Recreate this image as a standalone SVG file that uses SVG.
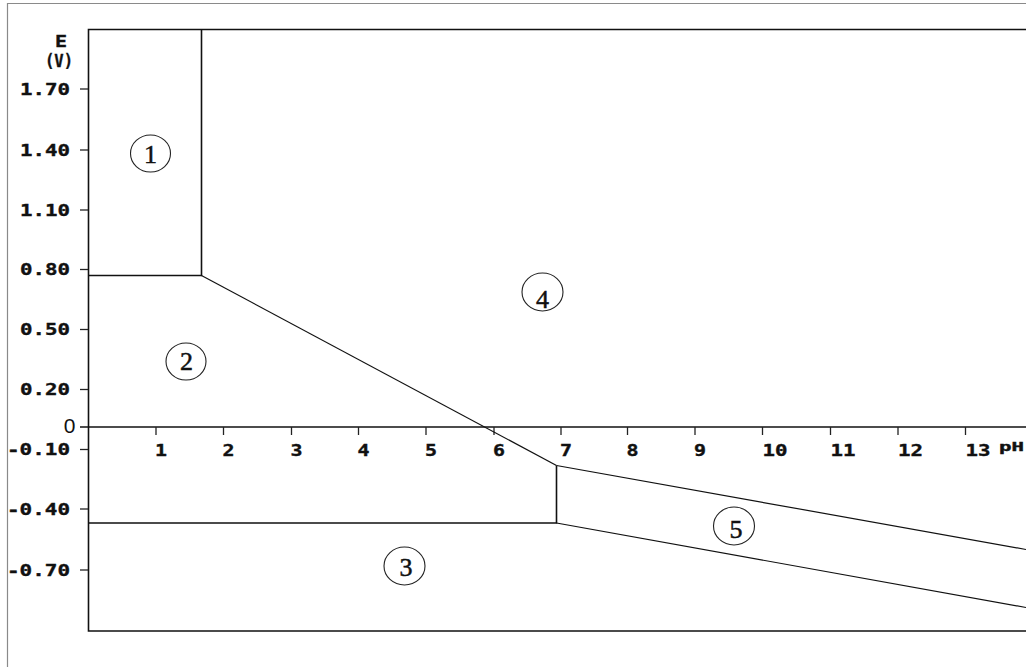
<svg xmlns="http://www.w3.org/2000/svg" width="1026" height="667" viewBox="0 0 1026 667">
<style>
.frame{fill:none;stroke:#8a8a8a;stroke-width:1.2}
.ln{fill:none;stroke:#111;stroke-width:1.6}
.thin{fill:none;stroke:#111;stroke-width:1.2}
.tick{stroke:#222;stroke-width:1.3}
.lab{font-family:"DejaVu Sans Mono","Liberation Mono",monospace;font-weight:bold;font-size:15px;fill:#111;stroke:#111;stroke-width:0.35}
.zero{font-family:"Liberation Sans","DejaVu Sans",sans-serif;font-size:21px;fill:#111}
.circ{fill:none;stroke:#222;stroke-width:1.1}
.num{font-family:"Liberation Serif","Times New Roman",serif;font-size:26px;fill:#111;stroke:#111;stroke-width:0.5;text-anchor:middle}
</style>
<rect width="1026" height="667" fill="#ffffff"/>
<g id="outer-frame">
<polyline class="frame" points="7.5,667 7.5,3.5 1026,3.5"/>
</g>
<g id="axes">
<polyline class="ln" points="1026,29.5 88.5,29.5 88.5,631 1026,631"/>
<line class="ln" x1="80" y1="427" x2="1026" y2="427"/>
<g id="y-ticks">
<line class="tick" x1="80" y1="89" x2="88" y2="89"/>
<line class="tick" x1="80" y1="150" x2="88" y2="150"/>
<line class="tick" x1="80" y1="210" x2="88" y2="210"/>
<line class="tick" x1="80" y1="269.5" x2="88" y2="269.5"/>
<line class="tick" x1="80" y1="329.5" x2="88" y2="329.5"/>
<line class="tick" x1="80" y1="389.5" x2="88" y2="389.5"/>
<line class="tick" x1="80" y1="449.5" x2="88" y2="449.5"/>
<line class="tick" x1="80" y1="509" x2="88" y2="509"/>
<line class="tick" x1="80" y1="570" x2="88" y2="570"/>
</g>
<g id="x-ticks">
<line class="tick" x1="156" y1="427" x2="156" y2="435"/>
<line class="tick" x1="223.5" y1="427" x2="223.5" y2="435"/>
<line class="tick" x1="291.5" y1="427" x2="291.5" y2="435"/>
<line class="tick" x1="358.5" y1="427" x2="358.5" y2="435"/>
<line class="tick" x1="426" y1="427" x2="426" y2="435"/>
<line class="tick" x1="494" y1="427" x2="494" y2="435"/>
<line class="tick" x1="561" y1="427" x2="561" y2="435"/>
<line class="tick" x1="627.5" y1="427" x2="627.5" y2="435"/>
<line class="tick" x1="695" y1="427" x2="695" y2="435"/>
<line class="tick" x1="762.5" y1="427" x2="762.5" y2="435"/>
<line class="tick" x1="830.5" y1="427" x2="830.5" y2="435"/>
<line class="tick" x1="898" y1="427" x2="898" y2="435"/>
<line class="tick" x1="965.5" y1="427" x2="965.5" y2="435"/>
</g>
<g id="y-labels">
<text class="lab" x="55" y="47" textLength="12" lengthAdjust="spacingAndGlyphs">E</text>
<text class="lab" x="45" y="67" style="font-size:18px" textLength="28" lengthAdjust="spacingAndGlyphs">(V)</text>
<text class="lab" x="20" y="94.5" textLength="50" lengthAdjust="spacingAndGlyphs">1.70</text>
<text class="lab" x="20" y="155.5" textLength="50" lengthAdjust="spacingAndGlyphs">1.40</text>
<text class="lab" x="20" y="215.5" textLength="50" lengthAdjust="spacingAndGlyphs">1.10</text>
<text class="lab" x="20" y="275" textLength="50" lengthAdjust="spacingAndGlyphs">0.80</text>
<text class="lab" x="20" y="335" textLength="50" lengthAdjust="spacingAndGlyphs">0.50</text>
<text class="lab" x="20" y="395" textLength="50" lengthAdjust="spacingAndGlyphs">0.20</text>
<text class="zero" x="75.5" y="433" text-anchor="end">0</text>
<text class="lab" x="7" y="455" textLength="63" lengthAdjust="spacingAndGlyphs">-0.10</text>
<text class="lab" x="7" y="514.5" textLength="63" lengthAdjust="spacingAndGlyphs">-0.40</text>
<text class="lab" x="7" y="575.5" textLength="63" lengthAdjust="spacingAndGlyphs">-0.70</text>
</g>
<g id="x-labels">
<text class="lab" x="155" y="455.5" textLength="12" lengthAdjust="spacingAndGlyphs">1</text>
<text class="lab" x="222.5" y="455.5" textLength="12" lengthAdjust="spacingAndGlyphs">2</text>
<text class="lab" x="290.5" y="455.5" textLength="12" lengthAdjust="spacingAndGlyphs">3</text>
<text class="lab" x="357.5" y="455.5" textLength="12" lengthAdjust="spacingAndGlyphs">4</text>
<text class="lab" x="425" y="455.5" textLength="12" lengthAdjust="spacingAndGlyphs">5</text>
<text class="lab" x="493" y="455.5" textLength="12" lengthAdjust="spacingAndGlyphs">6</text>
<text class="lab" x="560" y="455.5" textLength="12" lengthAdjust="spacingAndGlyphs">7</text>
<text class="lab" x="626.5" y="455.5" textLength="12" lengthAdjust="spacingAndGlyphs">8</text>
<text class="lab" x="694" y="455.5" textLength="12" lengthAdjust="spacingAndGlyphs">9</text>
<text class="lab" x="762.5" y="455.5" textLength="25" lengthAdjust="spacingAndGlyphs">10</text>
<text class="lab" x="830.5" y="455.5" textLength="25" lengthAdjust="spacingAndGlyphs">11</text>
<text class="lab" x="898" y="455.5" textLength="25" lengthAdjust="spacingAndGlyphs">12</text>
<text class="lab" x="965.5" y="455.5" textLength="25" lengthAdjust="spacingAndGlyphs">13</text>
<text class="lab" x="999" y="451" style="font-size:12px" textLength="25" lengthAdjust="spacingAndGlyphs">pH</text>
</g>
</g>
<g id="connectors">
<polyline class="ln" points="201.5,29.5 201.5,275.5 88.5,275.5"/>
<line class="thin" x1="201.5" y1="275.5" x2="556.5" y2="465.5"/>
<polyline class="ln" points="556.5,465.5 556.5,523 88.5,523"/>
<line class="thin" x1="556.5" y1="465.5" x2="1026" y2="549.5"/>
<line class="thin" x1="556.5" y1="523" x2="1026" y2="607.5"/>
</g>
<g id="region-1">
<ellipse class="circ" cx="150.5" cy="153.5" rx="20" ry="18.5"/>
<text class="num" x="150.5" y="163">1</text>
</g>
<g id="region-2">
<ellipse class="circ" cx="186" cy="361.5" rx="20" ry="18.5"/>
<text class="num" x="186.5" y="370">2</text>
</g>
<g id="region-3">
<ellipse class="circ" cx="404.5" cy="566" rx="20.5" ry="19"/>
<text class="num" x="406" y="576">3</text>
</g>
<g id="region-4">
<ellipse class="circ" cx="542.5" cy="292" rx="20.5" ry="19"/>
<text class="num" x="542.5" y="308">4</text>
</g>
<g id="region-5">
<ellipse class="circ" cx="734" cy="526" rx="20.5" ry="19"/>
<text class="num" x="736" y="538">5</text>
</g>
</svg>
